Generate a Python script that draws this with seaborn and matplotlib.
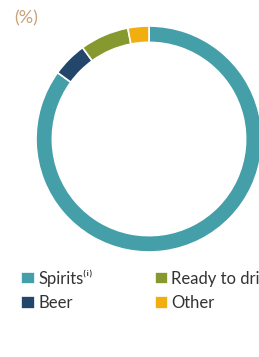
import matplotlib
matplotlib.use("Agg")
import matplotlib.pyplot as plt
import seaborn as sns

# data (percent)
categories = ["Spirits", "Beer", "Ready to drink", "Other"]
legend_labels = ["Spirits\u207d\u2071\u207e", "Beer", "Ready to drink", "Other"]
shares = [85, 5, 7, 3]
colors = ["#459fa9", "#23466b", "#86992f", "#f2ae0f"]

sns.set_theme(style="white")
plt.rcParams["font.family"] = ["Lato", "DejaVu Sans"]

fig = plt.figure(figsize=(2.59, 3.57), dpi=100)
fig.patch.set_facecolor("white")

# donut axes placed so the ring sits like the reference (runs off the right edge)
ax = fig.add_axes([36 / 259, 1 - 252 / 357, 226 / 259, 226 / 357])
wedges, _ = ax.pie(
    shares,
    colors=colors,
    startangle=90,
    counterclock=False,
    wedgeprops=dict(width=0.145, edgecolor="white", linewidth=1.2),
)
ax.set_aspect("equal")
ax.set_xlim(-1, 1)
ax.set_ylim(-1, 1)
ax.axis("off")

fig.text(14 / 259, 1 - 18 / 357, "(%)", color="#c9a27b", fontsize=13,
         va="center", ha="left")

leg = fig.legend(
    wedges, legend_labels,
    loc="upper left",
    bbox_to_anchor=(13 / 259, 1 - 261 / 357),
    ncol=2,
    frameon=False,
    fontsize=12,
    handlelength=0.8,
    handleheight=0.8,
    handletextpad=0.2,
    columnspacing=3.75,
    labelspacing=0.5,
    borderpad=0,
)
for t in leg.get_texts():
    t.set_color("#333333")

fig.savefig("out.png", dpi=100, facecolor="white")
